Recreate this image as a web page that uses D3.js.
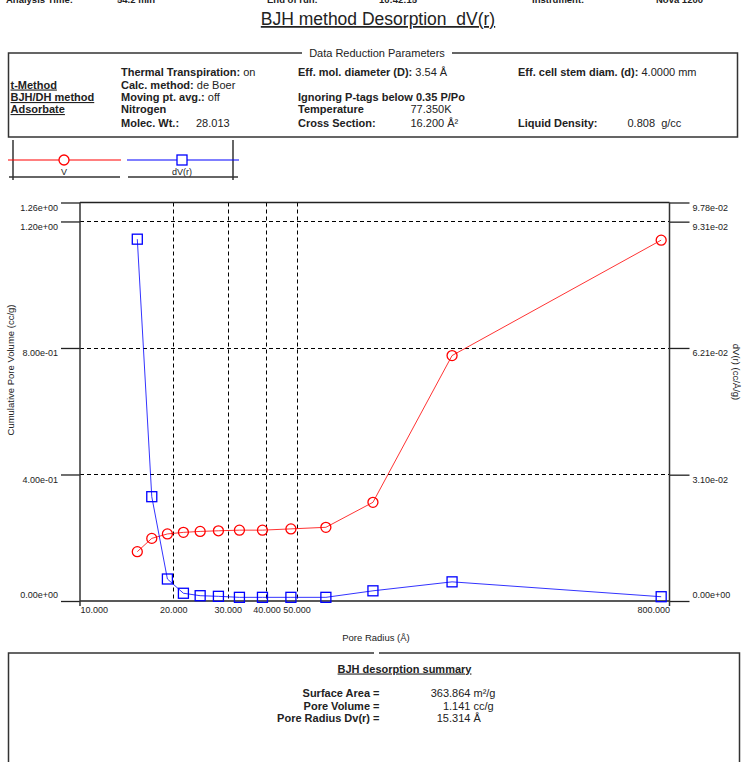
<!DOCTYPE html>
<html>
<head>
<meta charset="utf-8">
<script src="https://d3js.org/d3.v7.min.js"></script>
<style>
  body { margin: 0; background: #fff; }
  svg { display: block; }
  text { font-family: "Liberation Sans", Arial, sans-serif; fill: #222; }
</style>
</head>
<body>
<svg id="chart" width="742" height="762"></svg>
<script>
// ---- data ----
const poreRadius = [15.31, 17.05, 19.15, 21.57, 24.43, 27.98, 32.71, 38.82, 47.96, 62.2, 88.25, 158.9, 752];
const cumVolume  = [0.156, 0.198, 0.212, 0.217, 0.220, 0.222, 0.224, 0.224, 0.228, 0.233, 0.312, 0.776, 1.141];
const dVr        = [0.0888, 0.0256, 0.0054, 0.0019, 0.0013, 0.00115, 0.0009, 0.0009, 0.0009, 0.0009, 0.0025, 0.0047, 0.00105];
const xTicks     = [10, 20, 30, 40, 50, 800];
const xGrid      = [20, 30, 40, 50];
const leftTicks  = [0, 0.4, 0.8, 1.2, 1.26];
const rightTicks = [0, 0.0310, 0.0621, 0.0931, 0.0978];
const gridTicks  = [0.4, 0.8, 1.2];
const seriesNames = ["V", "dV(r)"];
const seriesColors = ["#ff0000", "#0000ff"];

const headerFragments = ["Analysis Time:", "54.2 min", "End of run:", "10:42:15", "Instrument:", "Nova 1200"];
const paramHeading = "Data Reduction Parameters";
const summaryTitle = "BJH desorption summary";
const summaryLabels = ["Surface Area =", "Pore Volume =", "Pore Radius Dv(r) ="];
const summaryValues = ["363.864", "1.141", "15.314"];
const summaryUnits  = [" m\u00b2/g", " cc/g", " \u00c5"];

const FONT = "\"Liberation Sans\", Arial, sans-serif";
const svg = d3.select("#chart");
svg.append("rect").attr("width", 742).attr("height", 762).attr("fill", "#fff");

// ---- header line cut off at the top edge ----
const fragX = [6, 117, 267, 379, 532, 656];
headerFragments.forEach((t, i) => {
  svg.append("text").attr("x", fragX[i]).attr("y", 3)
    .attr("font-size", 9.5).attr("font-weight", "bold").attr("fill", "#444").text(t);
});

// ---- title ----
svg.append("text").attr("x", 378).attr("y", 25).attr("text-anchor", "middle")
  .attr("font-size", 17.5).style("text-decoration", "underline").style("white-space", "pre")
  .text("BJH method Desorption  dV(r)");

// ---- data reduction parameters box ----
svg.append("path").attr("d", "M302,53 H8.5 V137 H737.5 V53 H452")
  .attr("stroke", "#333").attr("stroke-width", 1.5).attr("fill", "none");
svg.append("text").attr("x", 377).attr("y", 57).attr("text-anchor", "middle")
  .attr("font-size", 11).text(paramHeading);

const rows = [76, 88.5, 101, 113, 127];
function param(x, y, bold, plain, plainX, underline) {
  const t = svg.append("text").attr("x", x).attr("y", y).attr("font-size", 11)
    .style("white-space", "pre");
  if (underline) t.style("text-decoration", "underline");
  t.append("tspan").attr("font-weight", "bold").text(bold);
  if (plain) {
    const s = t.append("tspan").text(plain);
    if (plainX != null) s.attr("x", plainX);
  }
}
param(10.5, rows[1], "t-Method", "", null, true);
param(10.5, rows[2], "BJH/DH method", "", null, true);
param(10.5, rows[3], "Adsorbate", "", null, true);
param(121, rows[0], "Thermal Transpiration: ", "on");
param(121, rows[1], "Calc. method: ", "de Boer");
param(121, rows[2], "Moving pt. avg.: ", "off");
param(121, rows[3], "Nitrogen", "");
param(121, rows[4], "Molec. Wt.:", "28.013", 196);
param(298, rows[0], "Eff. mol. diameter (D): ", "3.54 \u00c5");
param(298, rows[2], "Ignoring P-tags below 0.35 P/Po", "");
param(298, rows[3], "Temperature", "77.350K", 410.5);
param(298, rows[4], "Cross Section:", "16.200 \u00c5\u00b2", 410.5);
param(518, rows[0], "Eff. cell stem diam. (d): ", "4.0000 mm");
param(518, rows[4], "Liquid Density:", "0.808  g/cc", 627.5);

// ---- legend ----
const lg = svg.append("g");
lg.append("line").attr("x1", 13).attr("x2", 13).attr("y1", 140).attr("y2", 180).attr("stroke", "#333").attr("stroke-width", 1.5);
lg.append("line").attr("x1", 233).attr("x2", 233).attr("y1", 140).attr("y2", 180).attr("stroke", "#333").attr("stroke-width", 1.5);
seriesNames.forEach((name, i) => {
  const x0 = 8 + i * 119, x1 = 121 + i * 118, cx = 64 + i * 118;
  lg.append("line").attr("x1", x0).attr("x2", x1).attr("y1", 160).attr("y2", 160)
    .attr("stroke", seriesColors[i]).attr("stroke-width", 1.2);
  if (i === 0) {
    lg.append("circle").attr("cx", cx).attr("cy", 160).attr("r", 5)
      .attr("fill", "#fff").attr("stroke", seriesColors[i]).attr("stroke-width", 1.3);
  } else {
    lg.append("rect").attr("x", cx - 5).attr("y", 155).attr("width", 10).attr("height", 10)
      .attr("fill", "#fff").attr("stroke", seriesColors[i]).attr("stroke-width", 1.3);
  }
  lg.append("text").attr("x", cx).attr("y", 174.5).attr("text-anchor", "middle")
    .attr("font-size", 9).text(name);
  lg.append("line").attr("x1", x0 + 1).attr("x2", x1 - 1).attr("y1", 177).attr("y2", 177)
    .attr("stroke", "#333").attr("stroke-width", 1.5);
});

// ---- scales ----
const x  = d3.scaleLog().domain([10, 800]).range([80, 669.5]);
const yL = d3.scaleLinear().domain([0, 1.26]).range([601, 202.5]);
const yR = d3.scaleLinear().domain([0, 0.0978]).range([601, 202.5]);

function sci(v) {
  const [m, e] = v.toExponential(2).split("e");
  const n = parseInt(e, 10);
  return m + "e" + (n < 0 ? "-" : "+") + String(Math.abs(n)).padStart(2, "0");
}

// ---- grid ----
const grid = svg.append("g").attr("stroke", "#000").attr("stroke-width", 1)
  .attr("stroke-dasharray", "4,3");
gridTicks.forEach(v => {
  grid.append("line").attr("x1", x(10)).attr("x2", x(800))
    .attr("y1", Math.round(yL(v)) + 0.5).attr("y2", Math.round(yL(v)) + 0.5);
});
xGrid.forEach(v => {
  grid.append("line").attr("x1", Math.round(x(v)) + 0.5).attr("x2", Math.round(x(v)) + 0.5)
    .attr("y1", yL(1.26)).attr("y2", yL(0));
});
// top frame line and bottom axis line
svg.append("line").attr("x1", x(10)).attr("x2", x(800)).attr("y1", yL(1.26)).attr("y2", yL(1.26))
  .attr("stroke", "#222").attr("stroke-width", 1.3);
svg.append("line").attr("x1", x(10)).attr("x2", x(800)).attr("y1", yL(0)).attr("y2", yL(0))
  .attr("stroke", "#222").attr("stroke-width", 1.5);

// ---- series ----
const ptsV  = poreRadius.map((r, i) => ({r, v: cumVolume[i]}));
const ptsDV = poreRadius.map((r, i) => ({r, v: dVr[i]}));
svg.append("path").datum(ptsV).attr("fill", "none").attr("stroke", seriesColors[0])
  .attr("stroke-width", 1).attr("stroke-opacity", 0.8)
  .attr("d", d3.line().x(d => x(d.r)).y(d => yL(d.v)));
svg.append("path").datum(ptsDV).attr("fill", "none").attr("stroke", seriesColors[1])
  .attr("stroke-width", 1).attr("stroke-opacity", 0.8)
  .attr("d", d3.line().x(d => x(d.r)).y(d => yR(d.v)));
svg.append("g").selectAll("circle").data(ptsV).join("circle")
  .attr("cx", d => x(d.r)).attr("cy", d => yL(d.v)).attr("r", 5)
  .attr("fill", "none").attr("stroke", seriesColors[0]).attr("stroke-width", 1.3);
svg.append("g").selectAll("rect").data(ptsDV).join("rect")
  .attr("x", d => x(d.r) - 5).attr("y", d => yR(d.v) - 5).attr("width", 10).attr("height", 10)
  .attr("fill", "none").attr("stroke", seriesColors[1]).attr("stroke-width", 1.3);

// ---- axes ----
const axL = svg.append("g").attr("transform", `translate(${x(10)},0)`)
  .call(d3.axisLeft(yL).tickValues(leftTicks).tickSize(19).tickFormat(sci));
const axR = svg.append("g").attr("transform", `translate(${x(800)},0)`)
  .call(d3.axisRight(yR).tickValues(rightTicks).tickSize(20).tickFormat(sci));
[axL, axR].forEach(ax => {
  ax.select(".domain").remove();
  ax.selectAll(".tick line").attr("stroke", "#222").attr("stroke-width", 1.3);
  ax.selectAll(".tick text").attr("font-size", 9).attr("fill", "#222")
    .attr("font-family", FONT)
    .attr("dy", d => (d === 0 ? "-0.35em" : "0.85em"));
  ax.append("line").attr("x1", 0).attr("x2", 0).attr("y1", yL(1.26)).attr("y2", yL(0) + 5)
    .attr("stroke", "#333").attr("stroke-width", 1.5);
});
axL.selectAll(".tick text").attr("x", -22);
axR.selectAll(".tick text").attr("x", 23);

const axB = svg.append("g").attr("transform", `translate(0,${yL(0)})`)
  .call(d3.axisBottom(x).tickValues(xTicks).tickSize(0).tickFormat(d3.format(".3f")));
axB.select(".domain").remove();
axB.selectAll(".tick text").attr("font-size", 9).attr("fill", "#222").attr("y", 6)
  .attr("font-family", FONT)
  .attr("text-anchor", (d, i) => i === 0 ? "start" : (i === xTicks.length - 1 ? "end" : "middle"));

// axis titles
svg.append("text").attr("x", 376).attr("y", 640.5).attr("text-anchor", "middle")
  .attr("font-size", 9.5).text("Pore Radius (\u00c5)");
svg.append("text").attr("transform", "translate(14,370) rotate(-90)").attr("text-anchor", "middle")
  .attr("font-size", 9.5).attr("fill", "#333").text("Cumulative Pore Volume (cc/g)");
svg.append("text").attr("transform", "translate(733,372) rotate(90)").attr("text-anchor", "middle")
  .attr("font-size", 9.5).attr("fill", "#333").text("dV(r) (cc/\u00c5/g)");

// ---- summary box ----
svg.append("path").attr("d", "M374,653 H8.5 V762 M379,653 H739.5 V762")
  .attr("fill", "none").attr("stroke", "#333").attr("stroke-width", 1.5);
svg.append("text").attr("x", 404.5).attr("y", 672.5).attr("text-anchor", "middle")
  .attr("font-size", 11).attr("font-weight", "bold").style("text-decoration", "underline")
  .text(summaryTitle);
summaryLabels.forEach((lab, i) => {
  const y = 697 + i * 12.5;
  svg.append("text").attr("x", 379.5).attr("y", y).attr("text-anchor", "end")
    .attr("font-size", 11).attr("font-weight", "bold").text(lab);
  const [ip, fp] = summaryValues[i].split(".");
  svg.append("text").attr("x", 449).attr("y", y).attr("text-anchor", "end")
    .attr("font-size", 11).text(ip);
  svg.append("text").attr("x", 449).attr("y", y).attr("font-size", 11)
    .style("white-space", "pre").text("." + fp + summaryUnits[i]);
});
</script>
</body>
</html>
